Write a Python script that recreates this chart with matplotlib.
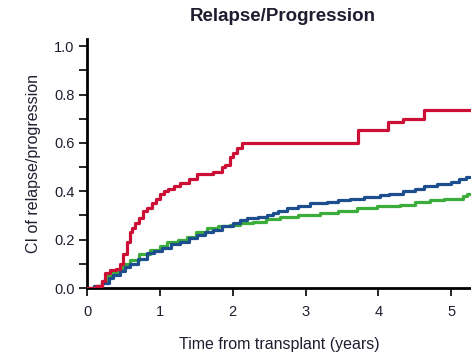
import matplotlib
matplotlib.use("Agg")
import matplotlib.pyplot as plt
from matplotlib import font_manager
from matplotlib.ticker import MultipleLocator

names = {f.name for f in font_manager.fontManager.ttflist}
narrow = "Liberation Sans Narrow" if "Liberation Sans Narrow" in names else "Liberation Sans"

# Data (years, cumulative incidence)
red_t = [0.0, 0.12, 0.2, 0.25, 0.32, 0.4, 0.45, 0.5, 0.55, 0.59, 0.62, 0.66, 0.72, 0.77, 0.83, 0.89, 0.95, 1.0,
         1.05, 1.11, 1.2, 1.28, 1.4, 1.51, 1.73, 1.85, 1.9, 1.96, 2.0, 2.06, 2.13, 3.72, 4.13, 4.33, 4.62, 5.3]
red_v = [0.0, 0.01, 0.03, 0.06, 0.075, 0.08, 0.1, 0.14, 0.19, 0.23, 0.25, 0.27, 0.29, 0.32, 0.33, 0.35, 0.37, 0.39,
         0.40, 0.41, 0.42, 0.435, 0.45, 0.47, 0.48, 0.50, 0.51, 0.54, 0.56, 0.58, 0.60, 0.655, 0.685, 0.70, 0.735, 0.735]

blue_t = [0.0, 0.1, 0.2, 0.3, 0.36, 0.45, 0.52, 0.59, 0.7, 0.82, 0.92, 1.03, 1.15, 1.28, 1.4, 1.51, 1.62, 1.73, 1.85,
          2.0, 2.1, 2.2, 2.35, 2.47, 2.55, 2.62, 2.75, 2.9, 3.06, 3.3, 3.45, 3.61, 3.8, 4.02, 4.15, 4.34, 4.5, 4.62,
          4.8, 4.99, 5.1, 5.2, 5.3]
blue_v = [0.0, 0.01, 0.02, 0.04, 0.054, 0.07, 0.085, 0.10, 0.12, 0.145, 0.155, 0.166, 0.18, 0.19, 0.205, 0.22, 0.23,
          0.24, 0.255, 0.27, 0.28, 0.29, 0.295, 0.30, 0.31, 0.32, 0.33, 0.34, 0.35, 0.355, 0.365, 0.37, 0.375, 0.385,
          0.39, 0.40, 0.41, 0.42, 0.43, 0.44, 0.45, 0.46, 0.46]

green_t = [0.0, 0.1, 0.2, 0.28, 0.32, 0.42, 0.5, 0.59, 0.72, 0.87, 1.0, 1.1, 1.25, 1.37, 1.5, 1.65, 1.8, 1.96, 2.1,
           2.28, 2.45, 2.65, 2.9, 3.2, 3.45, 3.7, 3.98, 4.3, 4.5, 4.71, 4.9, 5.16, 5.22, 5.3]
green_v = [0.0, 0.01, 0.03, 0.05, 0.062, 0.08, 0.10, 0.116, 0.14, 0.158, 0.175, 0.19, 0.20, 0.21, 0.23, 0.25, 0.255,
           0.26, 0.27, 0.275, 0.285, 0.295, 0.30, 0.31, 0.32, 0.33, 0.34, 0.345, 0.355, 0.365, 0.37, 0.38, 0.39, 0.40]

x_ticks = [0, 1, 2, 3, 4, 5]
y_ticks = [0.0, 0.2, 0.4, 0.6, 0.8, 1.0]

fig = plt.figure(figsize=(4.71, 3.56), dpi=100)
ax = fig.add_axes([87/471, 1-288/356, 1-87/471, (288-39)/356])

lw = 2.3
ax.plot(green_t, green_v, drawstyle="steps-post", color="#3cad3a", lw=lw, zorder=2)
ax.plot(blue_t, blue_v, drawstyle="steps-post", color="#1d4f8f", lw=lw, zorder=3)
ax.plot(red_t, red_v, drawstyle="steps-post", color="#cc0f35", lw=lw, zorder=4)

ax.set_xlim(0, 5.27)
ax.set_ylim(0, 1.03)
ax.set_xticks(x_ticks)
ax.set_yticks(y_ticks)
ax.set_yticklabels([f"{v:.1f}" for v in y_ticks])
ax.yaxis.set_minor_locator(MultipleLocator(0.1))
for s in ["top", "right"]:
    ax.spines[s].set_visible(False)
for s in ["left", "bottom"]:
    ax.spines[s].set_linewidth(2.0)
    ax.spines[s].set_color("black")
ax.tick_params(axis="both", which="both", direction="out", width=1.2, color="black")
ax.tick_params(axis="both", which="major", length=6, labelsize=10.5, labelcolor="#1e1e30", pad=3)
ax.tick_params(axis="y", which="minor", length=6)
ax.tick_params(axis="x", pad=6)
for lab in ax.get_xticklabels() + ax.get_yticklabels():
    lab.set_family("Liberation Sans")

ax.set_xlabel("Time from transplant (years)", family=narrow, fontsize=11.5, color="#1e1e30", labelpad=13)
ax.set_ylabel("CI of relapse/progression", family=narrow, fontsize=11.5, color="#1e1e30", labelpad=9)
fig.text(0.6, 0.953, "Relapse/Progression", family="Liberation Sans", fontweight="bold", fontsize=13.5,
         ha="center", va="center", color="#1e1e30")

fig.savefig("out.png", dpi=100)
